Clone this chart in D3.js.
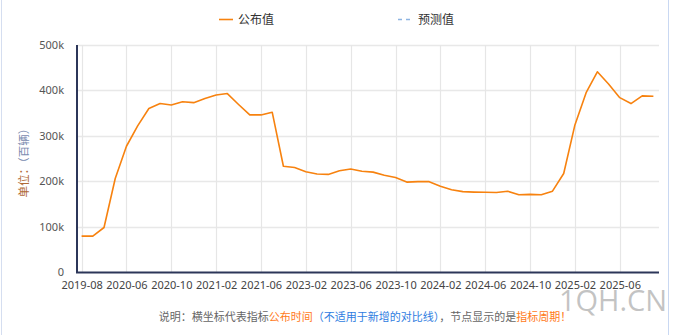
<!DOCTYPE html>
<html>
<head>
<meta charset="utf-8">
<script src="https://cdn.jsdelivr.net/npm/d3@7/dist/d3.min.js"></script>
<style>
  html, body { margin: 0; padding: 0; background: #fff; }
  svg { display: block; font-family: "Noto Sans CJK SC", "Noto Sans", sans-serif; }
</style>
</head>
<body>
<svg id="chart" width="679" height="335"></svg>
<script>
const categories = [
  "2019-08","2019-10","2019-12","2020-03","2020-06","2020-07","2020-08","2020-09",
  "2020-10","2020-11","2020-12","2021-01","2021-02","2021-03","2021-04","2021-05",
  "2021-06","2021-07","2022-03","2022-09","2023-02","2023-03","2023-04","2023-05",
  "2023-06","2023-07","2023-08","2023-09","2023-10","2023-11","2023-12","2024-01",
  "2024-02","2024-03","2024-04","2024-05","2024-06","2024-07","2024-08","2024-09",
  "2024-10","2024-11","2024-12","2025-01","2025-02","2025-03","2025-04","2025-05",
  "2025-06","2025-07","2025-08","2025-09"
];
const publishedValues = [
  79000, 79000, 98000, 206000, 277000, 322000, 360000, 371000,
  368000, 375000, 373000, 382000, 390000, 393000, 369000, 346000,
  346000, 352000, 233000, 230000, 221000, 216000, 215000, 223000,
  227000, 222000, 220000, 213000, 208000, 198000, 199000, 199000,
  189000, 181000, 177000, 176000, 175500, 175000, 178000, 170000,
  171000, 170000, 178000, 217000, 324000, 395000, 441000, 414000,
  384000, 371000, 388000, 387000
];
const forecastValues = [];
const xTickLabels = ["2019-08","2020-06","2020-10","2021-02","2021-06","2023-02","2023-06","2023-10","2024-02","2024-06","2024-10","2025-02","2025-06"];
const yTicks = [0, 100000, 200000, 300000, 400000, 500000];
const seriesNames = ["公布值", "预测值"];

(function () {
const svg = d3.select("#chart");
const W = 679, H = 335;
const pLeft = 77, pRight = 659, pTop = 45, pBottom = 272;

// outer borders
svg.append("line").attr("x1", 1.5).attr("x2", 1.5).attr("y1", 0).attr("y2", H).attr("stroke", "#d5def0").attr("stroke-width", 1);
svg.append("line").attr("x1", 668.5).attr("x2", 668.5).attr("y1", 0).attr("y2", H).attr("stroke", "#c9d8f2").attr("stroke-width", 1);

const x = d3.scalePoint().domain(categories).range([81.6, 653.4]);
const y = d3.scaleLinear().domain([0, 500000]).range([pBottom, pTop]);

// horizontal grid
svg.append("g").selectAll("line").data(yTicks.slice(1)).join("line")
  .attr("x1", pLeft).attr("x2", pRight)
  .attr("y1", d => Math.round(y(d)) + 0.5).attr("y2", d => Math.round(y(d)) + 0.5)
  .attr("stroke", "#e8e8e8").attr("stroke-width", 1.5);
// vertical grid
svg.append("g").selectAll("line").data(xTickLabels).join("line")
  .attr("x1", d => Math.round(x(d)) + 0.5).attr("x2", d => Math.round(x(d)) + 0.5)
  .attr("y1", pTop).attr("y2", pBottom)
  .attr("stroke", "#e6e6e6").attr("stroke-width", 1.2);

// y axis
const yAxis = d3.axisLeft(y).tickValues(yTicks).tickSize(0).tickPadding(13)
  .tickFormat(d => d === 0 ? "0" : (d / 1000) + "k");
const gy = svg.append("g").attr("transform", `translate(${pLeft},0)`).call(yAxis);
gy.select(".domain").remove();
gy.selectAll("text").attr("fill", "#555").style("font-size", "11px").style("font-family", "'Noto Sans', 'Open Sans', sans-serif");

// x axis
const xAxis = d3.axisBottom(x).tickValues(xTickLabels).tickSize(0).tickPadding(9);
const gx = svg.append("g").attr("transform", `translate(0,${pBottom})`).call(xAxis);
gx.select(".domain").remove();
gx.selectAll("text").attr("fill", "#444").style("font-size", "11px").style("font-family", "'Noto Sans', 'Open Sans', sans-serif");

// axis lines
svg.append("line").attr("x1", pLeft).attr("x2", pLeft).attr("y1", pTop).attr("y2", pBottom + 1)
  .attr("stroke", "#2c3659").attr("stroke-width", 2);
svg.append("line").attr("x1", pLeft - 1).attr("x2", pRight).attr("y1", pBottom + 0.5).attr("y2", pBottom + 0.5)
  .attr("stroke", "#2c3659").attr("stroke-width", 2);

// line series
const line = d3.line().x((d, i) => x(categories[i])).y(d => y(d));
svg.append("path").datum(publishedValues).attr("d", line)
  .attr("fill", "none").attr("stroke", "#f7820f").attr("stroke-width", 1.6).attr("stroke-linejoin", "round");

// y axis title
const yt = svg.append("text").attr("transform", "translate(28,160) rotate(-90)")
  .attr("text-anchor", "middle").style("font-size", "11.5px");
yt.append("tspan").attr("fill", "#b06a36").text("单位：");
yt.append("tspan").attr("fill", "#7a8bb0").text("（百辆）");

// legend
const lg = svg.append("g");
lg.append("line").attr("x1", 219).attr("x2", 233).attr("y1", 19.5).attr("y2", 19.5).attr("stroke", "#f7820f").attr("stroke-width", 1.6);
lg.append("text").attr("x", 238).attr("y", 24).attr("fill", "#333").style("font-size", "12px").text(seriesNames[0]);
lg.append("line").attr("x1", 398).attr("x2", 412).attr("y1", 19.5).attr("y2", 19.5).attr("stroke", "#8db4e2").attr("stroke-width", 1.6).attr("stroke-dasharray", "4,4");
lg.append("text").attr("x", 418).attr("y", 24).attr("fill", "#333").style("font-size", "12px").text(seriesNames[1]);

// footnote
const fn = svg.append("text").attr("x", 365).attr("y", 321).attr("text-anchor", "middle").style("font-size", "11px");
fn.append("tspan").attr("fill", "#666").text("说明：横坐标代表指标");
fn.append("tspan").attr("fill", "#ff7a1a").text("公布时间");
fn.append("tspan").attr("fill", "#2f7de1").text("（不适用于新增的对比线）");
fn.append("tspan").attr("fill", "#666").text("，节点显示的是");
fn.append("tspan").attr("fill", "#ff7a1a").text("指标周期！");

// watermark
svg.append("text").attr("x", 613).attr("y", 311).attr("text-anchor", "middle")
  .attr("fill", "#b0b0b0").attr("fill-opacity", 0.75)
  .style("font-size", "29px").style("font-family", "'Open Sans', 'Noto Sans', sans-serif")
  .text("1QH.CN");
})();
</script>
</body>
</html>
